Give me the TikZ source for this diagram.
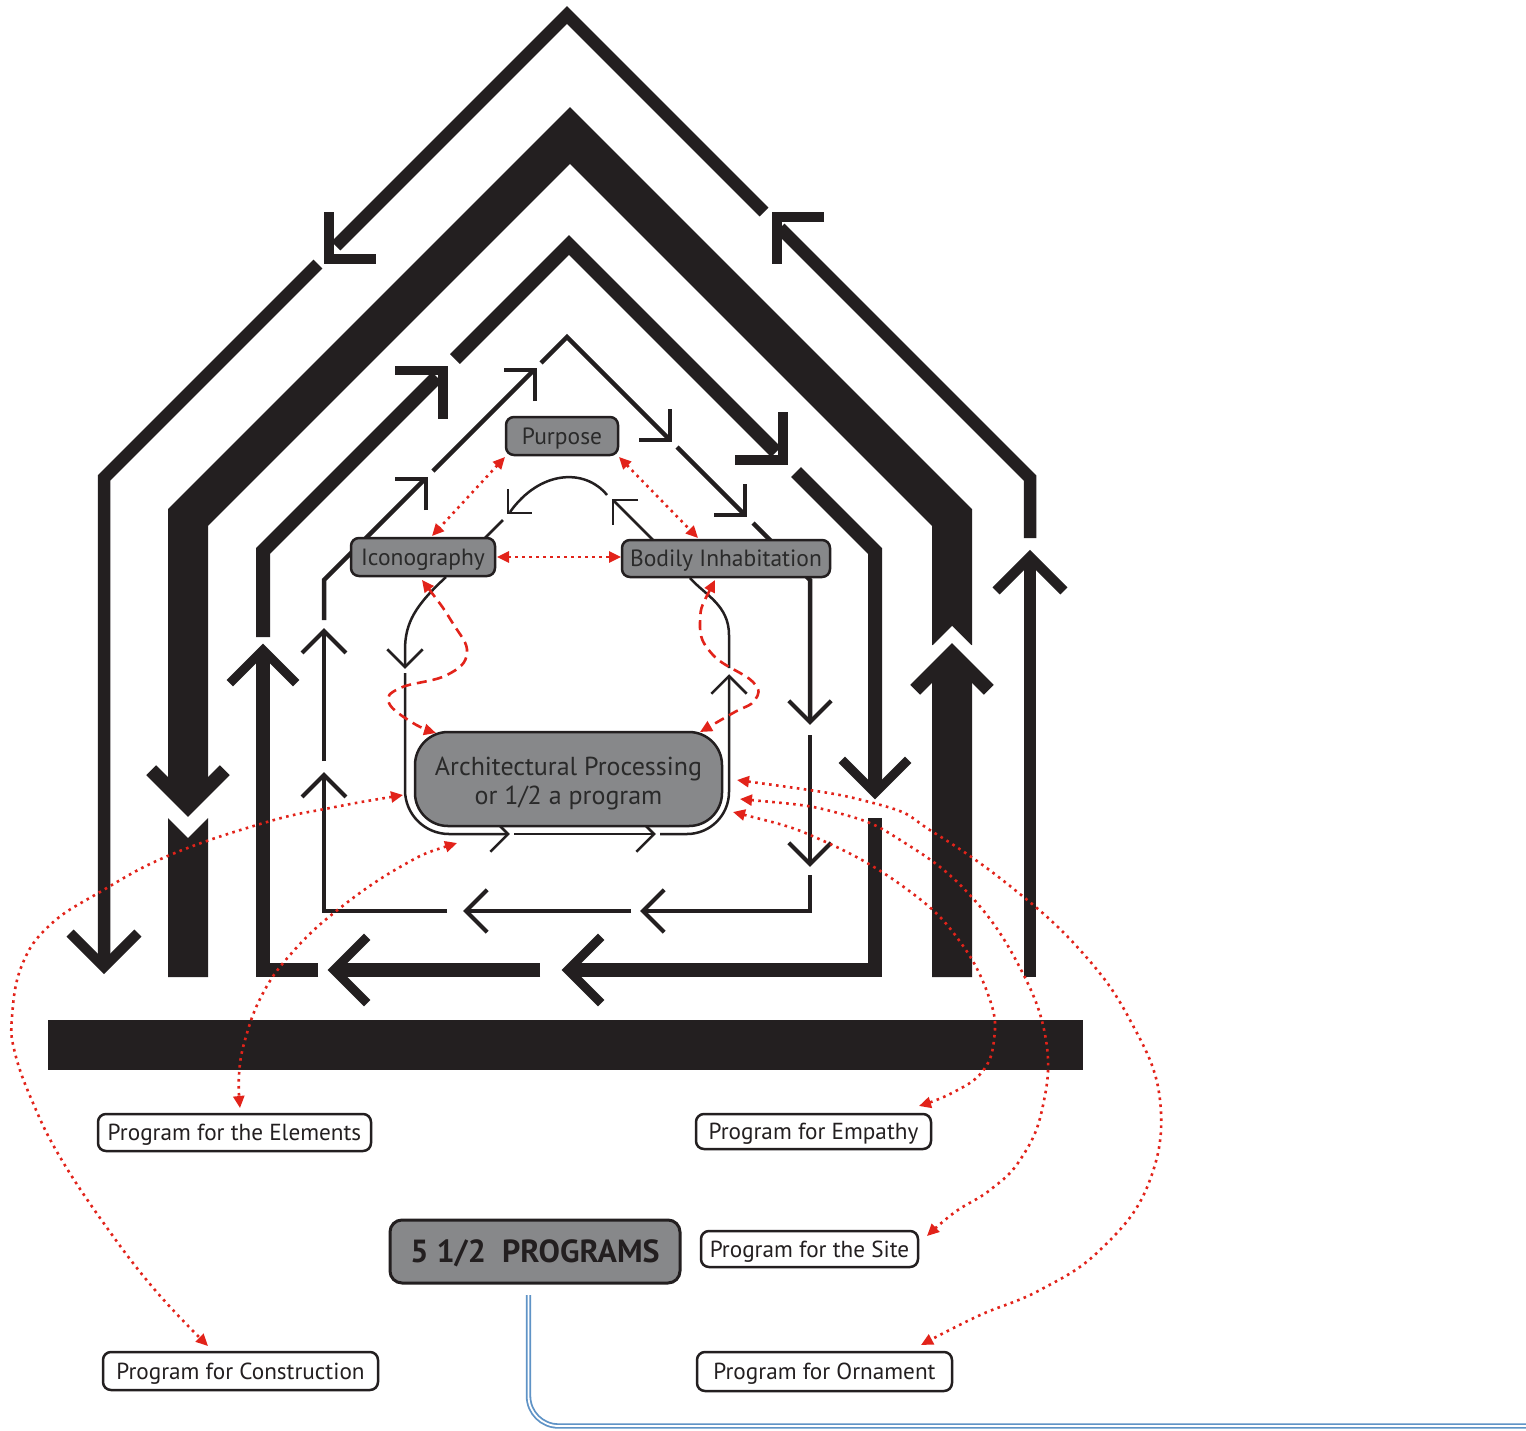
\documentclass[tikz,border=0pt]{standalone}
\usepackage{fontspec}
\setmainfont{PT Sans}
\usetikzlibrary{calc,arrows.meta}
\definecolor{ink}{HTML}{231F20}
\definecolor{boxgray}{HTML}{87888A}
\definecolor{redc}{HTML}{E2231A}
\definecolor{bluec}{HTML}{5F93C6}
\definecolor{txtgray}{HTML}{2A2A2A}
\newcommand\chev[4]{\draw[ink,line width=#4pt,line join=miter,miter limit=10] ($(#1)+(#2+135:#3)$) -- (#1) -- ($(#1)+(#2-135:#3)$);}
\begin{document}
\begin{tikzpicture}[x=1pt,y=-1pt,
  pA/.style={ink,line width=12.5pt},
  pB/.style={ink,line width=40pt},
  pC/.style={ink,line width=14pt},
  pD/.style={ink,line width=4.5pt},
  pE/.style={ink,line width=2.5pt},
  graybox/.style={draw=ink,line width=2.5pt,fill=boxgray,rounded corners=8pt,text=txtgray,inner sep=0pt,font=\fontsize{23.5}{28}\selectfont},
  capcenter/.style={text height=16.4pt,text depth=0pt},
  whitebox/.style={draw=ink,line width=2.5pt,fill=white,rounded corners=8pt,text=ink,inner sep=0pt,font=\fontsize{23.2}{28}\selectfont,capcenter},
  rtip/.tip={Triangle[length=12pt,width=11pt]},
  reddot/.style={redc,line width=2.6pt,dash pattern=on 2.6pt off 4.4pt,rtip-rtip},
  reddash/.style={redc,line width=2.6pt,dash pattern=on 10pt off 6pt,rtip-rtip}]
\useasboundingbox (0,0) rectangle (1526,1430);
\fill[white] (0,0) rectangle (1526,1430);
% ---- path A (outer)
\draw[pA] (1030,977) -- (1030,557);
\draw[pA] (1030,538) -- (1030,478) -- (780,228);
\draw[pA] (764,212) -- (567,15) -- (336,246);
\draw[pA] (318,264) -- (104,478) -- (104,967);
\chev{1030,557}{270}{48}{10}
\chev{777,217}{225}{47}{9.5}
\chev{329,259}{135}{47}{9.5}
\chev{104,967}{90}{48}{10}
% ---- path B (thick)
\fill[ink] (932,977) -- (932,672) -- (952,652) -- (972,672) -- (972,977) -- cycle;
\draw[pB] (952,645) -- (952,517.5) -- (570,135.5) -- (188,517.5) -- (188,786);
\fill[ink] (168,785) -- (208,785) -- (188,805) -- cycle;
\fill[white] (930,648) -- (952,626) -- (974,648) -- cycle;
\fill[ink] (168,977) -- (168,818) -- (188,838) -- (208,818) -- (208,977) -- cycle;
\chev{952,653}{270}{52}{14}
\chev{188,807}{90}{52}{14}
% ---- path C
\draw[pC] (318,970) -- (263,970) -- (263,652);
\draw[pC] (263,637) -- (263,551) -- (437,377);
\draw[pC] (455,359) -- (569,245) -- (776,452);
\draw[pC] (796,472) -- (875,551) -- (875,791);
\draw[pC] (875,818) -- (875,970) -- (569,970);
\draw[pC] (540,970) -- (336,970);
\chev{263,650}{270}{47}{9}
\chev{443,370.5}{-45}{48}{9.5}
\chev{783,460}{45}{48}{9.5}
\chev{875,793}{90}{47}{9}
\chev{568,970}{180}{47}{9}
\chev{334,970}{180}{47}{9}
% ---- path D
\draw[pD] (447,911) -- (324,911) -- (324,776);
\draw[pD] (324,761) -- (324,632);
\draw[pD] (324,620) -- (324,580) -- (425,479);
\draw[pD] (433,471) -- (534,370);
\draw[pD] (541,363) -- (567,337) -- (669,439);
\draw[pD] (677,447) -- (744,514);
\draw[pD] (753,523) -- (810,580) -- (810,721);
\draw[pD] (810,735) -- (810,863);
\draw[pD] (810,875) -- (810,911) -- (644,911);
\draw[pD] (631,911) -- (467,911);
\chev{324,775}{270}{31}{4}
\chev{324,631}{270}{31}{4}
\chev{426,479}{-45}{31}{4}
\chev{535,370}{-45}{31}{4}
\chev{670,440}{45}{31}{4}
\chev{745,515}{45}{31}{4}
\chev{810,722}{90}{30}{4}
\chev{810,864}{90}{30}{4}
\chev{643,911}{180}{30}{4}
\chev{466,911}{180}{30}{4}
% ---- path E (inner loop)
\draw[pE] (446,577) .. controls (416,605) and (405,622) .. (405,650) -- (405,666);
\chev{405,667}{90}{25}{2.5}
\draw[pE,rounded corners=44pt] (405,673) -- (405,834) -- (507,834);
\chev{508,834}{0}{25}{2.5}
\draw[pE] (514,834) -- (653,834);
\chev{654,834}{0}{25}{2.5}
\draw[pE,rounded corners=42pt] (660,834) -- (729,834) -- (729,677);
\chev{729,676}{270}{25}{2.5}
\draw[pE] (729,668) -- (729,635) .. controls (729,605) and (705,595) .. (690,578);
\draw[pE] (653,540) -- (614,501);
\chev{613,500}{225}{25}{2.5}
\draw[pE] (607,495) .. controls (585,468) and (540,470) .. (510,512);
\chev{508,513}{135}{24}{2.5}
\draw[pE] (503,520) -- (485,538);
% ---- ground
\fill[ink] (48,1020) rectangle (1083,1070);
% ---- nodes
\node[graybox,capcenter,minimum width=112pt,minimum height=38pt] (purpose) at (562,436) {Purpose};
\node[graybox,capcenter,minimum width=144pt,minimum height=38pt] (icon) at (423,557) {Iconography};
\node[graybox,capcenter,minimum width=208pt,minimum height=37pt] (bodily) at (726,558.5) {Bodily Inhabitation};
\node[graybox,minimum width=307pt,minimum height=94pt,rounded corners=33pt,align=center,font=\fontsize{26}{29}\selectfont] (arch) at (568.5,779) {\rule{0pt}{28pt}Architectural Processing\\or 1/2 a program};
\node[graybox,text height=22.4pt,text depth=0pt,minimum width=290pt,minimum height=63pt,rounded corners=12pt,line width=3pt,text=ink,font=\fontsize{32}{36}\selectfont\bfseries] (prog) at (535,1251.5) {5 1/2\ \ PROGRAMS};
\node[whitebox,minimum width=273pt,minimum height=37pt] (elements) at (234.5,1132.5) {Program for the Elements};
\node[whitebox,minimum width=235pt,minimum height=35pt] (empathy) at (813.5,1131.5) {Program for Empathy};
\node[whitebox,minimum width=217pt,minimum height=36pt] (site) at (809.5,1249) {Program for the Site};
\node[whitebox,minimum width=275pt,minimum height=38pt] (construction) at (240.5,1371) {Program for Construction};
\node[whitebox,minimum width=255pt,minimum height=39pt] (ornament) at (824.5,1371.5) {Program for Ornament};
% ---- red links
\draw[reddot] (505,457) -- (432,536);
\draw[reddot] (619,457) -- (698,538);
\draw[reddot] (497,557) -- (621,557);
\draw[reddash] plot[smooth,tension=0.7] coordinates {(422,580) (452,622) (467,653) (447,675) (400,688) (389,703) (413,723) (436,733)};
\draw[reddash] plot[smooth,tension=0.7] coordinates {(715,580) (700,623) (713,655) (753,682) (755,700) (733,713) (700,732)};
\draw[reddot] plot[smooth,tension=0.7] coordinates {(403,795) (330,808) (267,822) (170,855) (100,892) (50,925) (22,965) (12,1017) (15,1053) (33,1103) (60,1157) (105,1225) (155,1290) (208,1346)};
\draw[reddot] plot[smooth,tension=0.7] coordinates {(457,843) (400,867) (335,912) (290,955) (262,995) (245,1040) (239,1075) (240,1108)};
\draw[reddot] plot[smooth,tension=0.7] coordinates {(737,780) (877,804) (933,832) (1010,886) (1080,950) (1130,1020) (1160,1100) (1148,1185) (1100,1250) (1040,1290) (978,1316) (921,1345)};
\draw[reddot] plot[smooth,tension=0.7] coordinates {(740,799) (842,814) (905,843) (968,893) (1018,964) (1046,1040) (1042,1110) (1020,1160) (990,1190) (955,1212) (927,1236)};
\draw[reddot] plot[smooth,tension=0.7] coordinates {(733,812) (828,843) (912,893) (961,943) (990,1000) (994,1040) (982,1072) (952,1093) (919,1106)};
% ---- blue line
\draw[bluec,line width=1.8pt,double=white,double distance=1.8pt,rounded corners=30pt] (528.5,1295) -- (528.5,1426) -- (1535,1426);
\end{tikzpicture}
\end{document}
